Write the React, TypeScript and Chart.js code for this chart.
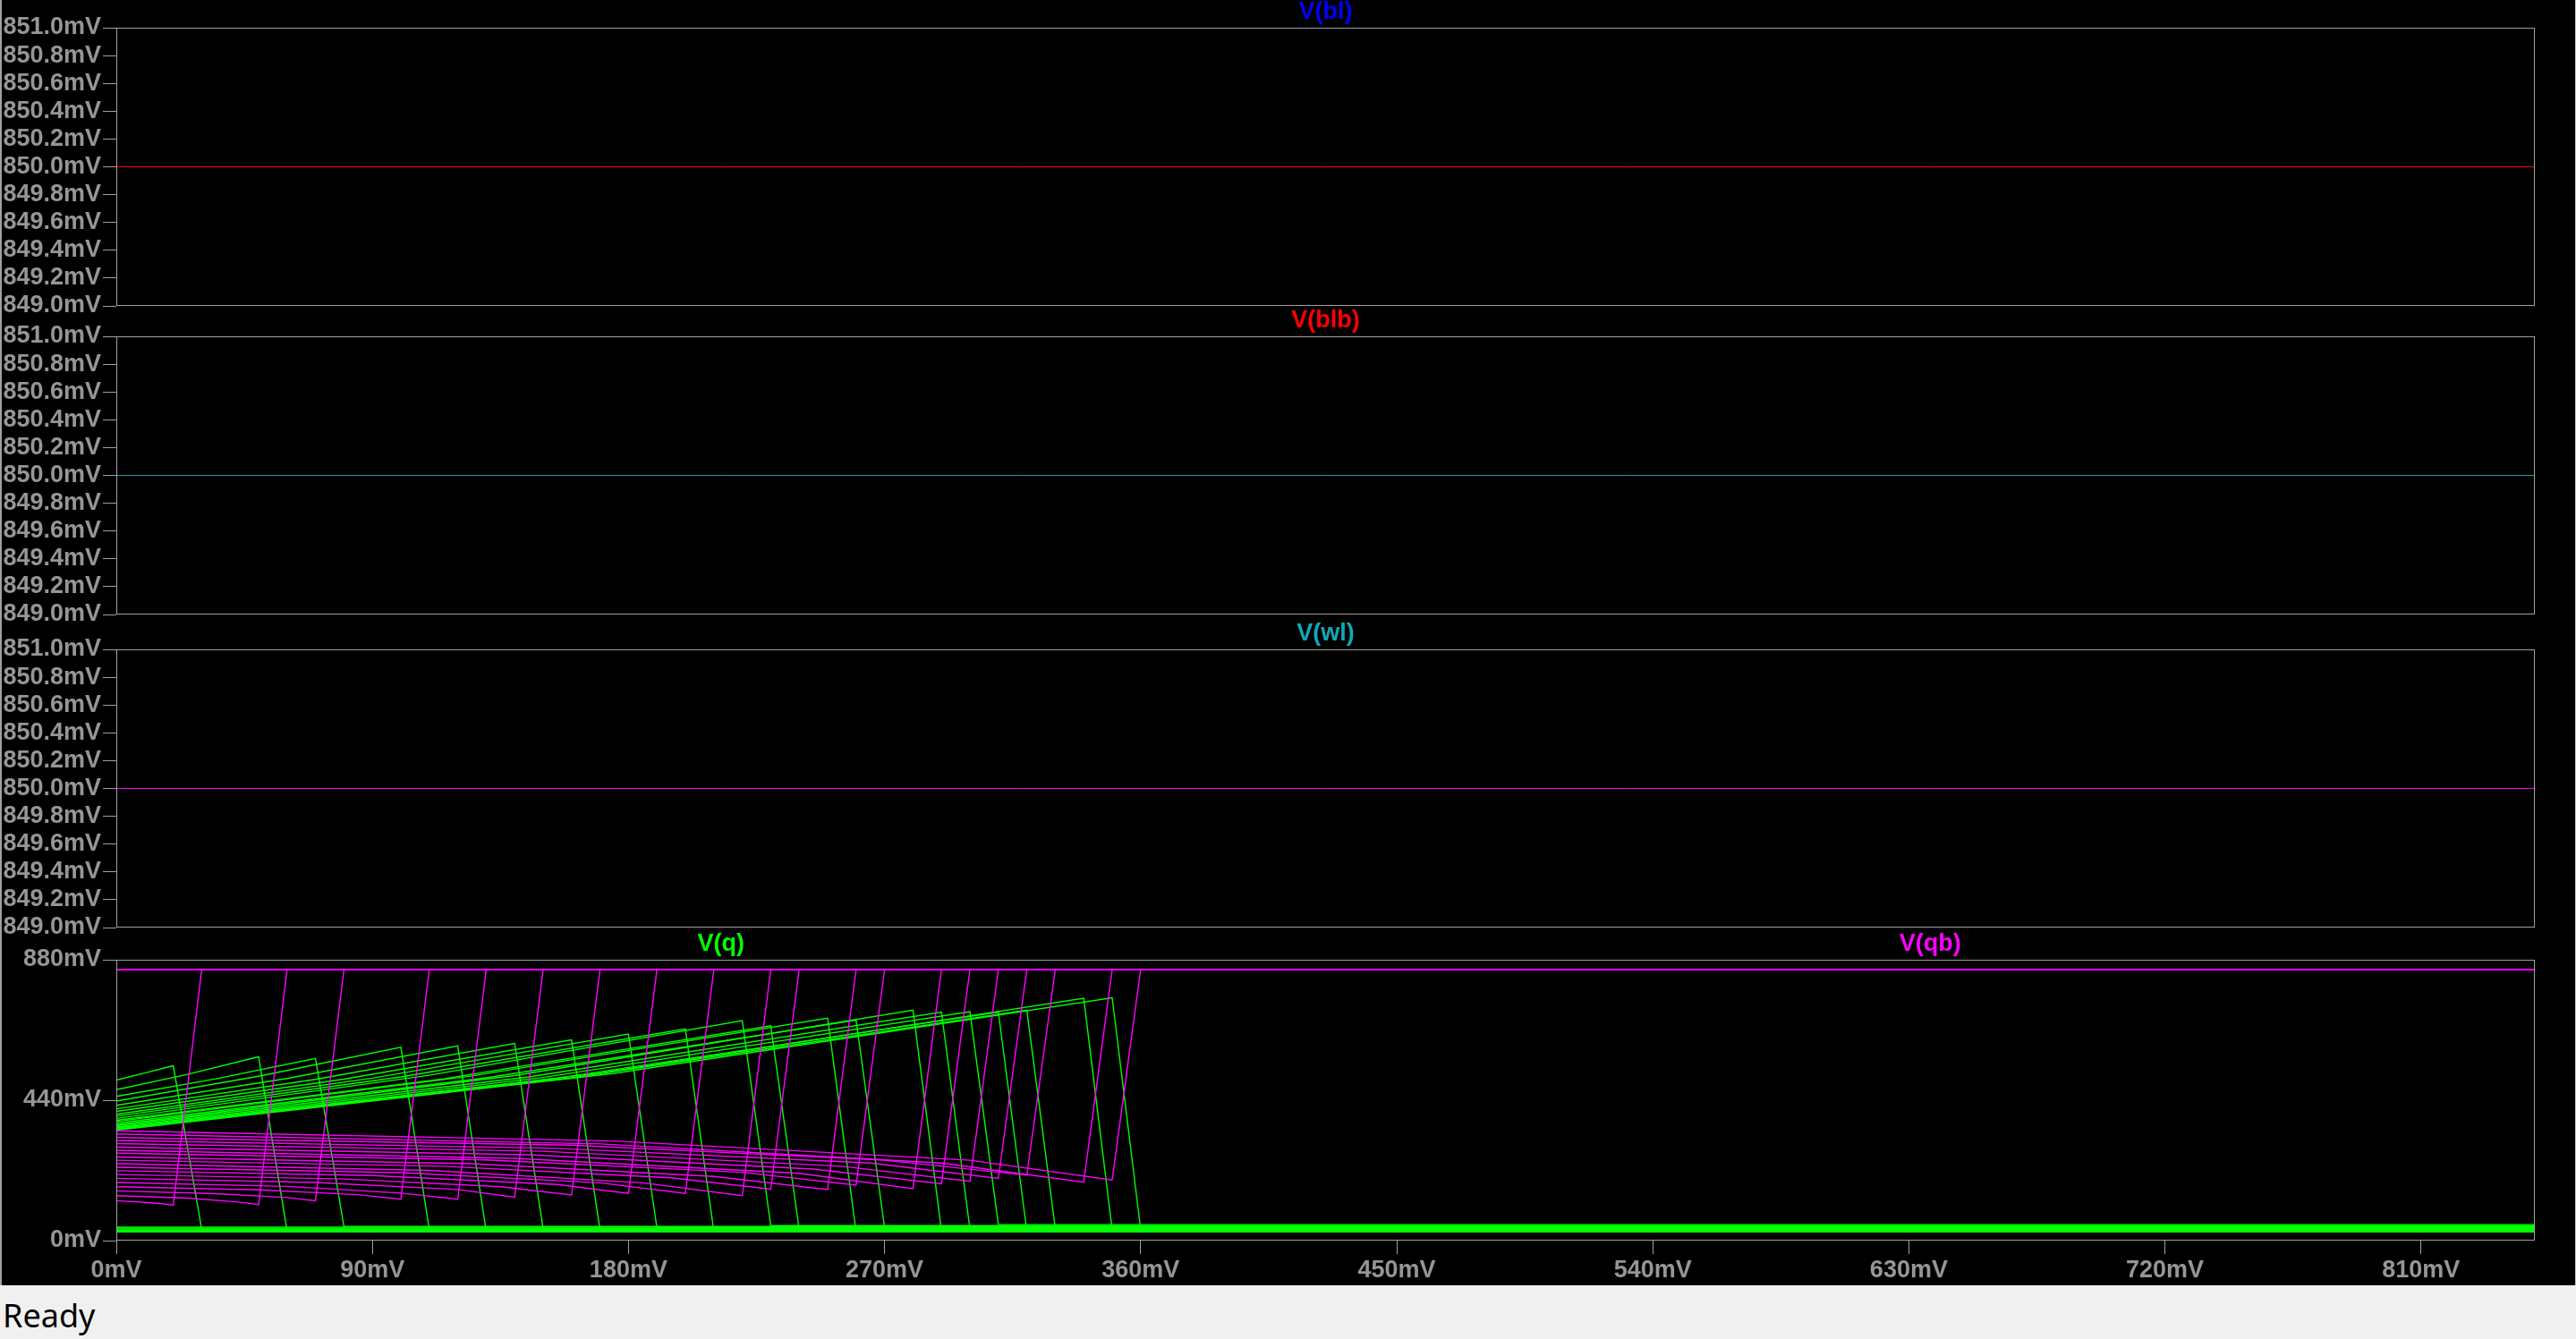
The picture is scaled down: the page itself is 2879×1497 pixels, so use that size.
import React, { useEffect, useRef } from "react";
import { Chart, registerables } from "chart.js";
Chart.register(...registerables);

// ---------- data ----------
const sweepRange = [0, 850]; // mV, x axis of every pane
const xTickValues = [0, 90, 180, 270, 360, 450, 540, 630, 720, 810];
const mvTickValues = [849.0, 849.2, 849.4, 849.6, 849.8, 850.0, 850.2, 850.4, 850.6, 850.8, 851.0];
const qTickValues = [0, 440, 880];

const blLevel = [850, 850];
const blbLevel = [850, 850];
const wlLevel = [850, 850];

// stepped curves of V(q) / V(qb)
const peakX = [20, 50, 70, 100, 120, 140, 160, 180, 200, 220, 230, 250, 260, 280, 290, 300, 310, 320, 340, 350];
const flipX = [30, 60, 80, 110, 130, 150, 170, 190, 210, 230, 240, 260, 270, 290, 300, 310, 320, 330, 350, 360];
const midX = [10, 25, 35, 50, 60, 70, 80, 90, 100, 110, 115, 125, 130, 140, 145, 150, 155, 160, 170, 175];
const lateX = [17, 43, 60, 85, 100, 120, 135, 155, 170, 185, 195, 210, 220, 240, 245, 255, 265, 270, 290, 300];

const qStart = [503, 473, 452, 437, 424, 413, 405, 396, 390, 383, 377, 373, 368, 363, 360, 356, 353, 350, 348, 346];
const qMid = [525, 521, 507, 515, 508, 505, 506, 509, 513, 518, 507, 516, 510, 517, 513, 511, 509, 510, 525, 524];
const qPeak = [548, 576, 571, 606, 610, 618, 629, 647, 663, 689, 673, 697, 691, 722, 716, 717, 716, 722, 759, 761];
const qLow = [36, 31, 44, 34, 29, 38, 33, 40, 30, 47, 35, 28, 41, 32, 37, 50, 30, 39, 34, 36];

const qbStart = [125, 141, 156, 169, 182, 195, 207, 219, 230, 241, 252, 262, 274, 283, 293, 304, 314, 323, 334, 344];
const qbMid = [120, 133, 147, 159, 170, 182, 193, 204, 213, 220, 233, 241, 253, 258, 269, 280, 289, 299, 303, 312];
const qbLate = [115, 121, 135, 144, 149, 160, 169, 176, 181, 181, 197, 201, 214, 211, 224, 233, 243, 252, 243, 252];
const qbEnd = [111, 113, 125, 130, 130, 136, 143, 148, 148, 141, 161, 160, 174, 163, 178, 186, 195, 205, 183, 190];
const qbHigh = 849;

// curves that are already flipped at the start of the sweep
const preFlippedQ = [27, 30, 33, 36, 39, 42];

// ---------- styling ----------
const W = 2879;
const H = 1497;
const FONT = '"Liberation Sans", Arial, sans-serif';
const LABEL_COLOR = "#969696";
const FRAME_COLOR = "#a0a0a0";
const GREEN = "#00ff00";
const MAGENTA = "#ff00ff";

const decorPlugin = {
  id: "decor",
  afterDatasetsDraw(chart: any, _args: any, opts: any) {
    const { ctx, chartArea: a } = chart;
    ctx.save();
    ctx.strokeStyle = FRAME_COLOR;
    ctx.lineWidth = 1;
    const l = Math.round(a.left) + 0.5;
    const t = Math.round(a.top) + 0.5;
    const r = Math.round(a.right) - 0.5;
    const b = Math.round(a.bottom) - 0.5;
    ctx.strokeRect(l, t, r - l, b - t);
    ctx.font = `bold 27px ${FONT}`;
    ctx.textAlign = "center";
    ctx.textBaseline = "middle";
    for (const it of opts.titles || []) {
      ctx.fillStyle = it.color;
      ctx.fillText(it.text, a.left + (a.right - a.left) * it.frac, a.top - 17);
    }
    ctx.restore();
  },
};

type PaneCfg = {
  top: number;
  padTop: number;
  area: number;
  padBottom: number;
  xAxis: boolean;
  yMin: number;
  yMax: number;
  yTicks: number[];
  yFmt: (v: number) => string;
  titles: { text: string; color: string; frac: number }[];
  datasets: any[];
};

function lineDs(points: { x: number; y: number }[], color: string, width = 1) {
  return {
    data: points,
    borderColor: color,
    backgroundColor: color,
    borderWidth: width,
    pointRadius: 0,
    tension: 0,
    fill: false,
  };
}

const TRACE_W = 1.4;

function buildQDatasets() {
  const qb: any[] = [];
  const q: any[] = [];
  for (let i = 0; i < peakX.length; i++) {
    qb.push(
      lineDs(
        [
          { x: sweepRange[0], y: qbStart[i] },
          { x: midX[i], y: qbMid[i] },
          { x: lateX[i], y: qbLate[i] },
          { x: peakX[i], y: qbEnd[i] },
          { x: flipX[i], y: qbHigh },
          { x: sweepRange[1], y: qbHigh },
        ],
        MAGENTA,
        TRACE_W
      )
    );
    q.push(
      lineDs(
        [
          { x: sweepRange[0], y: qStart[i] },
          { x: midX[i], y: qMid[i] },
          { x: peakX[i], y: qPeak[i] },
          { x: flipX[i], y: qLow[i] },
          { x: sweepRange[1], y: qLow[i] },
        ],
        GREEN,
        TRACE_W
      )
    );
  }
  for (const v of preFlippedQ) {
    qb.push(lineDs([{ x: sweepRange[0], y: qbHigh }, { x: sweepRange[1], y: qbHigh }], MAGENTA, TRACE_W));
    q.push(lineDs([{ x: sweepRange[0], y: v }, { x: sweepRange[1], y: v }], GREEN, TRACE_W));
  }
  // first dataset is drawn on top in Chart.js -> magenta first
  return [...qb, ...q];
}

function flat(levels: number[], color: string) {
  return [lineDs(levels.map((v, i) => ({ x: sweepRange[i], y: v })), color, 1)];
}

const mvFmt = (v: number) => Number(v).toFixed(1) + "mV";
const intFmt = (v: number) => Math.round(Number(v)) + "mV";

const panes: PaneCfg[] = [
  {
    top: 0, padTop: 31, area: 311, padBottom: 20, xAxis: false,
    yMin: 849, yMax: 851, yTicks: mvTickValues, yFmt: mvFmt,
    titles: [{ text: "V(bl)", color: "#0000ff", frac: 0.5 }],
    datasets: flat(blLevel, "#ff0000"),
  },
  {
    top: 336, padTop: 40, area: 311, padBottom: 20, xAxis: false,
    yMin: 849, yMax: 851, yTicks: mvTickValues, yFmt: mvFmt,
    titles: [{ text: "V(blb)", color: "#ff0000", frac: 0.5 }],
    datasets: flat(blbLevel, "#1a9ca6"),
  },
  {
    top: 686, padTop: 40, area: 311, padBottom: 20, xAxis: false,
    yMin: 849, yMax: 851, yTicks: mvTickValues, yFmt: mvFmt,
    titles: [{ text: "V(wl)", color: "#10a8b8", frac: 0.5 }],
    datasets: flat(wlLevel, MAGENTA),
  },
  {
    top: 1033, padTop: 40, area: 314, padBottom: 0, xAxis: true,
    yMin: 0, yMax: 880, yTicks: qTickValues, yFmt: intFmt,
    titles: [
      { text: "V(q)", color: GREEN, frac: 0.25 },
      { text: "V(qb)", color: MAGENTA, frac: 0.75 },
    ],
    datasets: buildQDatasets(),
  },
];

const X_AXIS_H = 50;

function paneHeight(p: PaneCfg) {
  return p.padTop + p.area + p.padBottom + (p.xAxis ? X_AXIS_H : 0);
}

export default function App() {
  const refs = useRef<(HTMLCanvasElement | null)[]>([]);

  useEffect(() => {
    const charts: Chart[] = [];
    panes.forEach((p, idx) => {
      const cv = refs.current[idx];
      if (!cv) return;
      const tickFont = { family: FONT, size: 27, weight: "bold" as const };
      const chart = new Chart(cv, {
        type: "line",
        data: { datasets: p.datasets },
        plugins: [decorPlugin],
        options: {
          animation: false,
          responsive: false,
          maintainAspectRatio: false,
          devicePixelRatio: 1,
          events: [],
          layout: { padding: { left: 0, right: 46, top: p.padTop, bottom: p.padBottom } },
          plugins: {
            legend: { display: false },
            tooltip: { enabled: false },
            decor: { titles: p.titles },
          } as any,
          scales: {
            x: {
              type: "linear",
              min: sweepRange[0],
              max: sweepRange[1],
              display: p.xAxis,
              afterBuildTicks: (s: any) => {
                s.ticks = xTickValues.map((v) => ({ value: v }));
              },
              afterFit: (s: any) => {
                s.height = p.xAxis ? X_AXIS_H : 0;
              },
              border: { display: false },
              grid: { drawOnChartArea: false, drawTicks: true, tickLength: 15, color: FRAME_COLOR, lineWidth: 1 },
              ticks: {
                color: LABEL_COLOR,
                font: tickFont,
                padding: 2,
                maxRotation: 0,
                autoSkip: false,
                callback: (v: any) => intFmt(v),
              },
            },
            y: {
              type: "linear",
              min: p.yMin,
              max: p.yMax,
              afterBuildTicks: (s: any) => {
                s.ticks = p.yTicks.map((v) => ({ value: v }));
              },
              afterFit: (s: any) => {
                s.width = 130;
              },
              border: { display: false },
              grid: { drawOnChartArea: false, drawTicks: true, tickLength: 15, color: FRAME_COLOR, lineWidth: 1 },
              ticks: {
                color: LABEL_COLOR,
                font: tickFont,
                padding: 2,
                autoSkip: false,
                callback: (v: any) => p.yFmt(v),
              },
            },
          },
        },
      });
      charts.push(chart);
    });
    return () => charts.forEach((c) => c.destroy());
  }, []);

  return (
    <div
      style={{
        position: "fixed",
        left: 0,
        top: 0,
        width: W,
        height: H,
        background: "#000",
        overflow: "hidden",
      }}
    >
      <div style={{ position: "absolute", left: 0, top: 0, width: 2, height: 1437, background: "#a0a0a0" }} />
      <div style={{ position: "absolute", left: W - 1, top: 0, width: 1, height: 1437, background: "#c8c8c8" }} />
      {panes.map((p, i) => (
        <canvas
          key={i}
          ref={(el) => {
            refs.current[i] = el;
          }}
          width={W}
          height={paneHeight(p)}
          style={{ position: "absolute", left: 0, top: p.top, width: W, height: paneHeight(p) }}
        />
      ))}
      <div
        style={{
          position: "absolute",
          left: 0,
          top: 1437,
          width: W,
          height: H - 1437,
          background: "#f0f0f0",
          borderTop: "1px solid #fafafa",
          boxSizing: "border-box",
        }}
      >
        <span
          style={{
            position: "absolute",
            left: 3,
            top: 15,
            fontFamily: '"Noto Sans", "Open Sans", sans-serif',
            fontSize: 36,
            lineHeight: "36px",
            color: "#000",
          }}
        >
          Ready
        </span>
      </div>
    </div>
  );
}
